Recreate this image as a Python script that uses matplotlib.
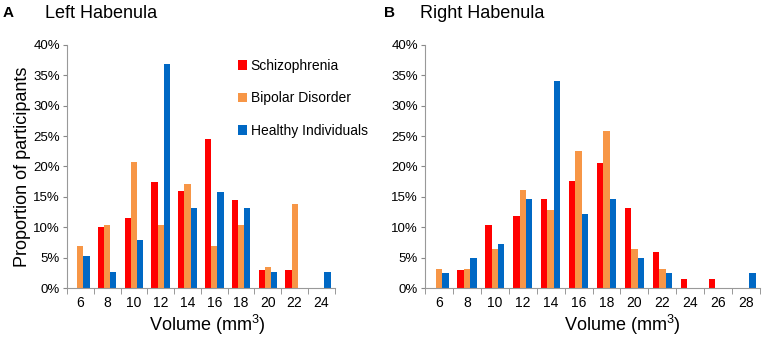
import numpy as np
import matplotlib
matplotlib.use("Agg")
import matplotlib.pyplot as plt

plt.rcParams['font.family'] = ['Liberation Sans', 'DejaVu Sans']

# data (% of participants per volume bin)
series_names = ["Schizophrenia", "Bipolar Disorder", "Healthy Individuals"]
colors = ["#FF0000", "#F79646", "#0068C4"]

left_bins = [6, 8, 10, 12, 14, 16, 18, 20, 22, 24]
left_scz = [0, 10.1, 11.6, 17.4, 15.9, 24.6, 14.5, 2.9, 2.9, 0]
left_bip = [6.9, 10.3, 20.7, 10.3, 17.2, 6.9, 10.3, 3.4, 13.8, 0]
left_hc = [5.3, 2.6, 7.9, 36.8, 13.2, 15.8, 13.2, 2.6, 0, 2.6]

right_bins = [6, 8, 10, 12, 14, 16, 18, 20, 22, 24, 26, 28]
right_scz = [0, 2.9, 10.3, 11.8, 14.7, 17.6, 20.6, 13.2, 5.9, 1.5, 1.5, 0]
right_bip = [3.2, 3.2, 6.5, 16.1, 12.9, 22.6, 25.8, 6.5, 3.2, 0, 0, 0]
right_hc = [2.4, 4.9, 7.3, 14.6, 34.1, 12.2, 14.6, 4.9, 2.4, 0, 0, 2.4]

fig = plt.figure(figsize=(7.65, 3.37), dpi=100)
ax1 = fig.add_axes([0.0876, 0.1454, 0.350, 0.7211])
ax2 = fig.add_axes([0.5556, 0.1454, 0.438, 0.7211])

def draw(ax, bins, groups):
    x = np.arange(len(bins))
    w = 0.23
    for i, (vals, c, name) in enumerate(zip(groups, colors, series_names)):
        ax.bar(x + (i - 1) * w, vals, width=w, color=c, label=name,
               edgecolor='none', zorder=2)
    ax.set_xlim(-0.5, len(bins) - 0.5)
    ax.set_ylim(0, 40)
    ax.set_yticks(range(0, 41, 5))
    ax.set_yticklabels([f"{v}%" for v in range(0, 41, 5)], fontsize=9.5)
    ax.set_xticks(x)
    ax.set_xticklabels([str(b) for b in bins], fontsize=10)
    ax.set_xticks(np.arange(len(bins) + 1) - 0.5, minor=True)
    ax.tick_params(axis='x', which='major', length=0, pad=6)
    ax.tick_params(axis='x', which='minor', length=4, color='#888888')
    ax.tick_params(axis='y', length=3, color='#888888', pad=2)
    for s in ['top', 'right']:
        ax.spines[s].set_visible(False)
    for s in ['left', 'bottom']:
        ax.spines[s].set_color('#999999')
        ax.spines[s].set_linewidth(0.8)

draw(ax1, left_bins, [left_scz, left_bip, left_hc])
draw(ax2, right_bins, [right_scz, right_bip, right_hc])

ax1.legend(loc='upper right', bbox_to_anchor=(1.17, 0.995), frameon=False,
           fontsize=10, handlelength=0.6, handleheight=0.7,
           handletextpad=0.3, labelspacing=1.35)

ax1.set_ylabel("Proportion of participants", fontsize=13, labelpad=2)

fig.text(207 / 765, 1 - 325 / 337, r"Volume (mm$\mathregular{^3}$)",
         fontsize=13, ha='center', va='center')
fig.text(622 / 765, 1 - 325 / 337, r"Volume (mm$\mathregular{^3}$)",
         fontsize=13, ha='center', va='center')

fig.text(3 / 765, 1 - 13 / 337, "A", fontsize=11, fontweight='bold', va='center')
fig.text(45 / 765, 1 - 13 / 337, "Left Habenula", fontsize=13, va='center')
fig.text(384 / 765, 1 - 13 / 337, "B", fontsize=11, fontweight='bold', va='center')
fig.text(420 / 765, 1 - 13 / 337, "Right Habenula", fontsize=13, va='center')

fig.savefig("out.png", dpi=100)
